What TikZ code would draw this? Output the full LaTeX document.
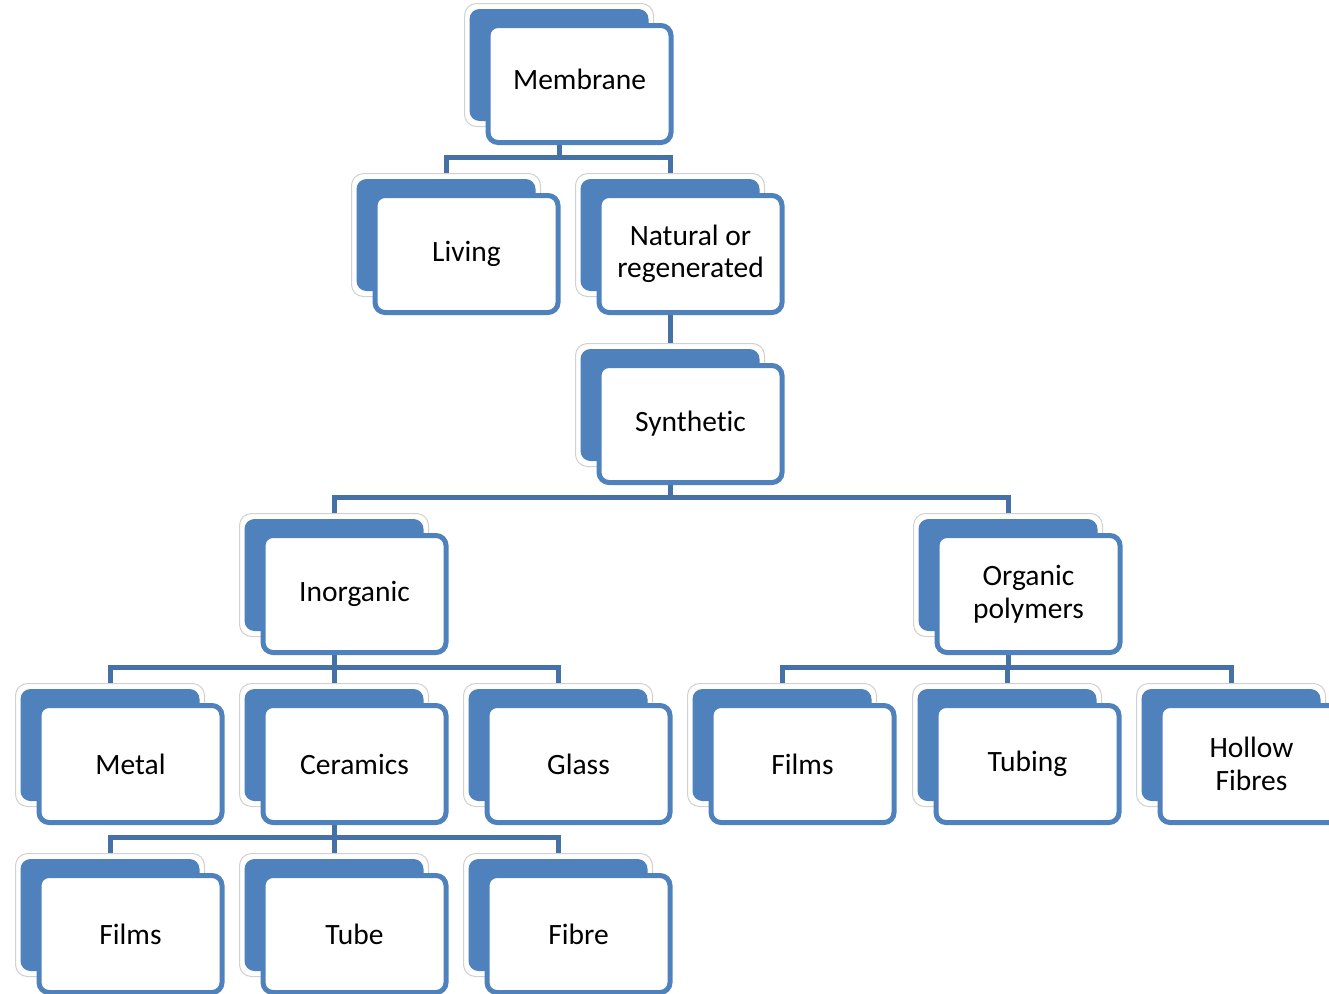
\documentclass[tikz,border=0pt]{standalone}
\usepackage{fontspec}
\setmainfont[Ligatures={NoCommon,NoContextual}]{Carlito}
\usetikzlibrary{calc}
\pgfdeclarelayer{background}
\pgfsetlayers{background,main}
\definecolor{boxblue}{RGB}{79,129,189}
\definecolor{linkblue}{RGB}{70,113,166}
\tikzset{
  halo/.style={draw=black!18, fill=white, line width=1pt, rounded corners=12pt,
    minimum width=189pt, minimum height=123pt, inner sep=0pt},
  backbox/.style={fill=boxblue, draw=none, rounded corners=10pt,
    minimum width=179pt, minimum height=112pt, inner sep=0pt},
  frontbox/.style={fill=white, draw=boxblue, line width=5pt, rounded corners=10pt,
    minimum width=183pt, minimum height=117pt, inner sep=2pt, align=center,
    font=\fontsize{29.5}{32.5}\selectfont},
  link/.style={draw=linkblue, line width=5pt}
}
% one stacked card: white halo, blue back card, white front card with the label
\newcommand\card[4]{%
  \node[halo] (#1h) at (#2,#3) {};
  \node[backbox] (#1) at (#2,#3) {};
  \node[frontbox] (#1f) at (#2+20.5,#3+19) {#4};
}
% elbow connector from a parent card down to a child card
\newcommand\link[2]{%
  \draw[link] (#1.south) |- ([yshift=21pt]#2.north) -- (#2.north);
}
\begin{document}
\begin{tikzpicture}[x=1pt,y=-1pt]
\useasboundingbox (0,0) rectangle (1329,993);

\card{mem}{559}{65}{\raisebox{9pt}{Membrane}}
\card{liv}{446}{235}{Living}
\card{nat}{670}{235}{Natural or\\regenerated}
\card{syn}{670}{405}{Synthet\kern0pt ic}
\card{ino}{334}{575}{Inorganic}
\card{org}{1008}{575}{Organic\\polymers}
\card{met}{110}{745}{Metal}
\card{cer}{334}{745}{Ceramics}
\card{gla}{558}{745}{Glass}
\card{ofi}{782}{745}{Films}
\card{tub}{1007}{745}{Tubing}
\card{hol}{1231}{745}{Hollow\\Fibres}
\card{ifi}{110}{915}{Films}
\card{tbe}{334}{915}{Tube}
\card{fib}{558}{915}{Fibre}

\begin{pgfonlayer}{background}
\link{mem}{liv}
\link{mem}{nat}
\link{nat}{syn}
\link{syn}{ino}
\link{syn}{org}
\link{ino}{met}
\link{ino}{cer}
\link{ino}{gla}
\link{org}{ofi}
\link{org}{tub}
\link{org}{hol}
\link{cer}{ifi}
\link{cer}{tbe}
\link{cer}{fib}
\end{pgfonlayer}
\end{tikzpicture}
\end{document}
